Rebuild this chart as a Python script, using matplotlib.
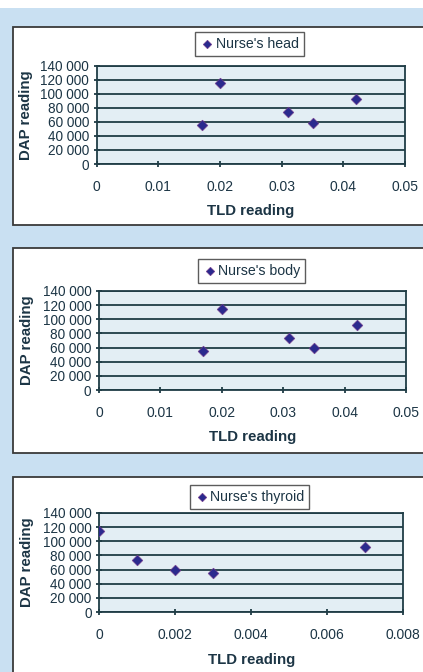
import matplotlib
matplotlib.use("Agg")
import matplotlib.pyplot as plt
from matplotlib.patches import Rectangle
from matplotlib.ticker import FuncFormatter, MultipleLocator

plt.rcParams['font.family'] = ['Liberation Sans', 'DejaVu Sans']

# ---- data ----
head_tld = [0.017, 0.020, 0.031, 0.035, 0.042]
head_dap = [55000, 115000, 74000, 59000, 92000]
body_tld = [0.017, 0.020, 0.031, 0.035, 0.042]
body_dap = [55000, 115000, 74000, 59000, 92000]
thyroid_tld = [0.000, 0.001, 0.002, 0.003, 0.007]
thyroid_dap = [115000, 74000, 59000, 55000, 92000]
series_names = ["Nurse's head", "Nurse's body", "Nurse's thyroid"]
xlabel = "TLD reading"
ylabel = "DAP reading"

W, H = 423, 672
fig = plt.figure(figsize=(W / 100, H / 100), dpi=100)
fig.patch.set_facecolor('white')

BG = '#c9e0f2'
TXT = '#1c3545'
LINE = '#203d46'
MARK = '#2b2a8e'

def fy(p):
    return 1 - p / H

# blue background below white top strip
fig.add_artist(Rectangle((0, 0), 1, fy(8), transform=fig.transFigure,
                         facecolor=BG, edgecolor='none', zorder=0))

panels = [(27, 225), (248, 453), (477, 690)]
for top, bot in panels:
    fig.add_artist(Rectangle((13 / W, fy(bot)), 1.2, fy(top) - fy(bot),
                             transform=fig.transFigure, facecolor='white',
                             edgecolor='#3a3a3a', linewidth=1.3, zorder=1))

axes_px = [(96.7, 405, 65.7, 164), (99, 406, 291, 390), (99.3, 403, 513, 612)]
legend_px = [(249.7, 56), (251.5, 283), (249.5, 509)]
xlabel_top = [204, 430, 653]
ylabel_right = [33, 34, 34]
xs = [head_tld, body_tld, thyroid_tld]
ys = [head_dap, body_dap, thyroid_dap]
xmaxes = [0.05, 0.05, 0.008]
xsteps = [0.01, 0.01, 0.002]

def yfmt(v, pos):
    v = int(round(v))
    if v == 0:
        return '0'
    return f"{v:,}".replace(',', ' ')

for i in range(3):
    l, r, t, b = axes_px[i]
    ax = fig.add_axes([l / W, fy(b), (r - l) / W, fy(t) - fy(b)])
    ax.set_zorder(2)
    ax.set_facecolor('#e3eef4')
    ax.scatter(xs[i], ys[i], marker='D', s=30, color=MARK,
               edgecolors='#7a3a8a', linewidths=0.4, zorder=3,
               label=series_names[i])
    ax.set_xlim(0, xmaxes[i])
    ax.set_ylim(0, 140000)
    ax.xaxis.set_major_locator(MultipleLocator(xsteps[i]))
    ax.yaxis.set_major_locator(MultipleLocator(20000))
    ax.yaxis.set_major_formatter(FuncFormatter(yfmt))
    if xsteps[i] == 0.01:
        ax.xaxis.set_major_formatter(FuncFormatter(lambda v, p: '0' if abs(v) < 1e-12 else f"{v:.2f}"))
    else:
        ax.xaxis.set_major_formatter(FuncFormatter(lambda v, p: '0' if abs(v) < 1e-12 else f"{v:.3f}"))
    ax.grid(axis='y', color=LINE, linewidth=1.3)
    ax.set_axisbelow(True)
    for s in ax.spines.values():
        s.set_color(LINE)
        s.set_linewidth(1.3)
    ax.tick_params(axis='both', direction='inout', length=5, width=1.3,
                   color=LINE, labelcolor=TXT)
    ax.tick_params(axis='x', pad=9, labelsize=10)
    ax.tick_params(axis='y', pad=3, labelsize=9.8)
    ax.set_xlabel(xlabel, fontsize=10.8, fontweight='bold', color=TXT)
    ax.set_ylabel(ylabel, fontsize=10.8, fontweight='bold', color=TXT)
    ax.xaxis.set_label_coords((l + r) / 2 / W, fy(xlabel_top[i]), transform=fig.transFigure)
    ax.yaxis.set_label_coords(ylabel_right[i] / W, fy((t + b) / 2), transform=fig.transFigure)
    cx, by = legend_px[i]
    leg = ax.legend(loc='lower center', bbox_to_anchor=(cx / W, fy(by)),
                    bbox_transform=fig.transFigure, fontsize=10.2,
                    frameon=True, fancybox=False, handletextpad=0.1,
                    borderpad=0.35, handlelength=1.0, markerscale=0.8,
                    borderaxespad=0)
    leg.get_frame().set_edgecolor('#333333')
    leg.get_frame().set_linewidth(1.0)
    for txt in leg.get_texts():
        txt.set_color(TXT)

fig.savefig('out.png', dpi=100)
